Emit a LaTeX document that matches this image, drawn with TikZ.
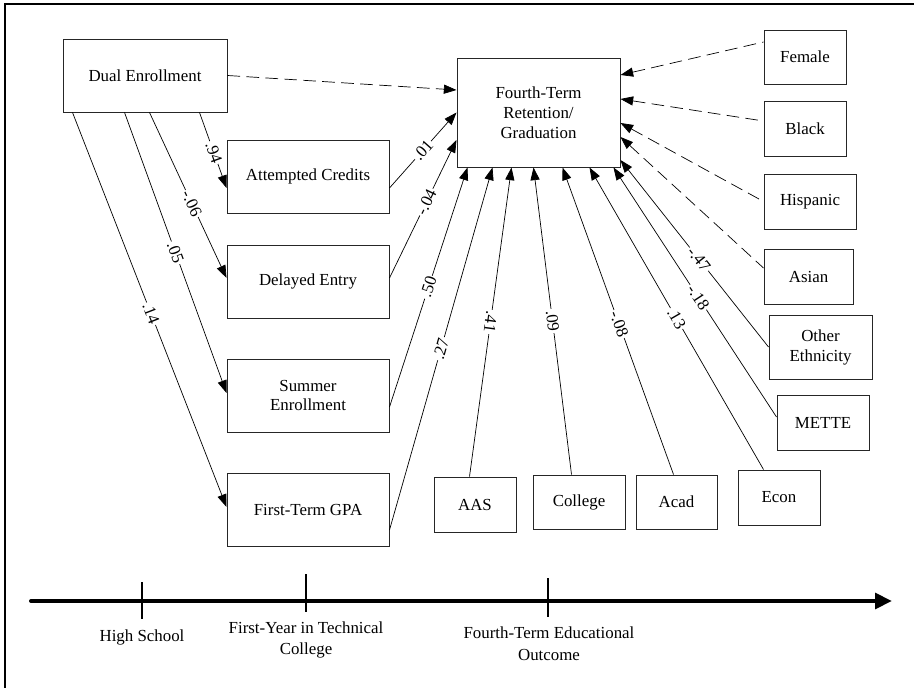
\documentclass[tikz,border=0pt]{standalone}
\usepackage{fontspec}
\setmainfont{Liberation Serif}
\usetikzlibrary{arrows.meta}
\newdimen\pxu \pxu=0.025cm
\begin{document}
\begin{tikzpicture}[x=0.025cm, y=-0.025cm,
		box/.style 2 args={draw=black!85, line width=0.7pt, minimum width=#1\pxu, minimum height=#2\pxu, align=center, inner sep=2pt, font=\fontsize{12}{14.2}\selectfont},
		effect/.style={-{Triangle[length=9pt,width=6.5pt]}, line width=0.5pt},
		back/.style={{Triangle[length=9pt,width=6.5pt]}-, line width=0.5pt},
		nonsig/.style={dash pattern=on 9pt off 4.5pt},
		coef/.style={fill=white, inner sep=1pt, sloped, allow upside down, font=\fontsize{12}{14}\selectfont},
		stage/.style={align=center, font=\fontsize{12}{15.5}\selectfont}]
		\useasboundingbox (0,0) rectangle (914,688);
		% Frame
		\draw [line width=1.1pt] (914,4) -- (5,4) -- (5,688);
		% Boxes
		\node [box={164}{73}] (dual) at (145,75.5) {Dual Enrollment};
		\node [box={163}{109}] (fourth) at (538.5,112.5) {Fourth-Term\\Retention/\\Graduation};
		\node [box={162}{73}] (credits) at (308,176.5) {Attempted Credits};
		\node [box={162}{73}] (delayed) at (308,281.5) {Delayed Entry};
		\node [box={162}{73}] (summer) at (308,395.5) {Summer\\Enrollment};
		\node [box={162}{73}] (gpa) at (308,509.5) {First-Term GPA};
		\node [box={82}{54}] (female) at (805,57) {Female};
		\node [box={82}{55}] (black) at (805,128.5) {Black};
		\node [box={92}{55}] (hispanic) at (810,201.5) {Hispanic};
		\node [box={89}{55}] (asian) at (808.5,276.5) {Asian};
		\node [box={103}{64}] (other) at (820.5,347) {Other\\Ethnicity};
		\node [box={92}{55}] (mette) at (823,422.5) {METTE};
		\node [box={82}{55}] (aas) at (475,504.5) {AAS};
		\node [box={92}{54}] (college) at (579,502) {College};
		\node [box={81}{54}] (acad) at (676.5,502) {Acad};
		\node [box={82}{55}] (econ) at (779,497.5) {Econ};
		% Dual enrollment paths
		\draw [effect,nonsig] (dual.east) -- ([yshift=22.5\pxu]fourth.west);
		\draw [effect] ([xshift=137\pxu]dual.south west) -- node[coef,pos=0.53] {.94} ([yshift=-11.5\pxu]credits.west);
		\draw [effect] ([xshift=87\pxu]dual.south west) -- node[coef,pos=0.55] {-.06} ([yshift=3.5\pxu]delayed.west);
		\draw [effect] ([xshift=62\pxu]dual.south west) -- node[coef,pos=0.5] {.05} ([yshift=2.5\pxu]summer.west);
		\draw [effect] ([xshift=10\pxu]dual.south west) -- node[coef,pos=0.51] {.14} ([yshift=2.5\pxu]gpa.west);
		% Mediators
		\draw [effect] ([yshift=-11.5\pxu]credits.east) -- node[coef,pos=0.5] {.01} (fourth.west);
		\draw [effect] ([yshift=3.5\pxu]delayed.east) -- node[coef,pos=0.55] {-.04} ([yshift=-27.5\pxu]fourth.west);
		\draw [effect] ([yshift=-11.5\pxu]summer.east) -- node[coef,pos=0.5] {.50} ([xshift=11\pxu]fourth.south west);
		\draw [effect] ([yshift=-20.5\pxu]gpa.east) -- node[coef,pos=0.5] {.27} ([xshift=36\pxu]fourth.south west);
		% Controls
		\draw [back] ([xshift=55\pxu]fourth.south west) -- node[coef,pos=0.5] {.41} ([xshift=36\pxu]aas.north west);
		\draw [back] ([xshift=77\pxu]fourth.south west) -- node[coef,pos=0.5] {.09} ([xshift=39\pxu]college.north west);
		\draw [back] ([xshift=106\pxu]fourth.south west) -- node[coef,pos=0.51] {-.08} ([xshift=38\pxu]acad.north west);
		\draw [back] ([xshift=133\pxu]fourth.south west) -- node[coef,pos=0.5] {.13} ([xshift=26\pxu]econ.north west);
		\draw [back] ([xshift=-7\pxu]fourth.south east) -- node[coef,pos=0.52] {-.18} ([yshift=5.5\pxu]mette.west);
		\draw [back] ([yshift=-47.5\pxu]fourth.east) -- node[coef,pos=0.53] {-.47} (other.west);
		\draw [back,nonsig] ([yshift=-24.5\pxu]fourth.east) -- ([yshift=8.5\pxu]asian.west);
		\draw [back,nonsig] ([yshift=-10.5\pxu]fourth.east) -- (hispanic.west);
		\draw [back,nonsig] ([yshift=13.5\pxu]fourth.east) -- ([yshift=7.5\pxu]black.west);
		\draw [back,nonsig] ([yshift=37.5\pxu]fourth.east) -- ([yshift=15\pxu]female.west);
		% Timeline
		\draw [line width=2.8pt, line cap=round, -{Triangle[length=12pt,width=11pt]}] (31,601) -- (892,601);
		\draw [line width=1.4pt] (142,582) -- (142,619);
		\draw [line width=1.4pt] (306,574) -- (306,612);
		\draw [line width=1.4pt] (548,578) -- (548,617);
		\node [stage] (highschool) at (142,637) {High School};
		\node [stage] (firstyear) at (306,640) {First-Year in Technical\\College};
		\node [stage] (outcome) at (549,644) {Fourth-Term Educational\\Outcome};
	\end{tikzpicture}
\end{document}
